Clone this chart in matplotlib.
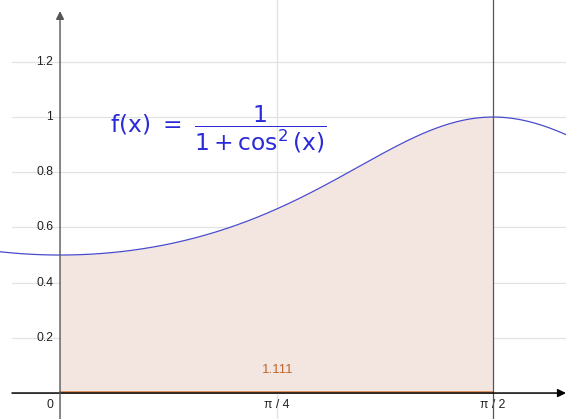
import matplotlib
matplotlib.use("Agg")
import matplotlib.pyplot as plt
import numpy as np

# function shown on the chart and the shaded interval
def f(x):
    return 1.0 / (1.0 + np.cos(x) ** 2)

a, b = 0.0, np.pi / 2
area_label = "1.111"

y_ticks = [0.2, 0.4, 0.6, 0.8, 1.0, 1.2]
y_tick_labels = ["0.2", "0.4", "0.6", "0.8", "1", "1.2"]
x_ticks = [0.0, np.pi / 4, np.pi / 2]
x_tick_labels = ["0", "π / 4", "π / 2"]

xmin, xmax = -0.2177, 1.835
ymin, ymax = -0.094, 1.424

plt.rcParams["mathtext.fontset"] = "custom"
plt.rcParams["mathtext.rm"] = "DejaVu Sans"
plt.rcParams["mathtext.it"] = "DejaVu Sans"

fig = plt.figure(figsize=(5.66, 4.19), dpi=100)
ax = fig.add_axes([0, 0, 1, 1])
ax.set_xlim(xmin, xmax)
ax.set_ylim(ymin, ymax)
ax.axis("off")

dx = (xmax - xmin) / 566
dy = (ymax - ymin) / 419
gx0 = xmin + 12 * dx

# grid
for yt in y_ticks:
    ax.plot([gx0, xmax], [yt, yt], color="#e2e2e2", lw=0.9, zorder=1)
ax.plot([np.pi / 4, np.pi / 4], [ymin, ymax], color="#e2e2e2", lw=0.9, zorder=1)

# shaded area under the curve
xs = np.linspace(a, b, 400)
ax.fill_between(xs, 0, f(xs), color="#f3e6e1", lw=0, zorder=2)
ax.plot([a, b], [0.003, 0.003], color="#d9824a", lw=1.2, zorder=3)

# curve
xc = np.linspace(xmin, xmax, 800)
ax.plot(xc, f(xc), color="#4a4acc", lw=0.9, zorder=4)

# vertical line at pi/2
ax.plot([np.pi / 2, np.pi / 2], [ymin, ymax], color="#555555", lw=0.9, zorder=5)

# axes with arrows
ax.annotate("", xy=(xmax, 0), xytext=(gx0, 0),
            arrowprops=dict(arrowstyle="-|>", color="black", lw=1.1,
                            mutation_scale=12, shrinkA=0, shrinkB=0), zorder=6)
ax.annotate("", xy=(0, ymax - 0.04), xytext=(0, ymin),
            arrowprops=dict(arrowstyle="-|>", color="#555555", lw=1.0,
                            mutation_scale=12, shrinkA=0, shrinkB=0), zorder=6)

# tick labels
tick_font = dict(fontsize=8.8, color="#222222", family="Liberation Sans")
for yt, lab in zip(y_ticks, y_tick_labels):
    ax.text(-7 * dx, yt, lab, ha="right", va="center", **tick_font)
for xt, lab in zip(x_ticks, x_tick_labels):
    ax.text(xt - 10 * dx if xt == 0 else xt, -12 * dy, lab, ha="center", va="center",
            **tick_font)

ax.text((a + b) / 2 + 1 * dx, 0.085, area_label, ha="center", va="center",
        fontsize=9.5, color="#c0662e", family="Liberation Sans")

ax.text(110 * dx + xmin, 0.955,
        r"$\mathrm{f(x)}\ =\ \dfrac{1}{1 + \cos^{2}(\mathrm{x})}$",
        ha="left", va="center", fontsize=16.8, color="#2a2ad8")

fig.savefig("out.png", dpi=100)
